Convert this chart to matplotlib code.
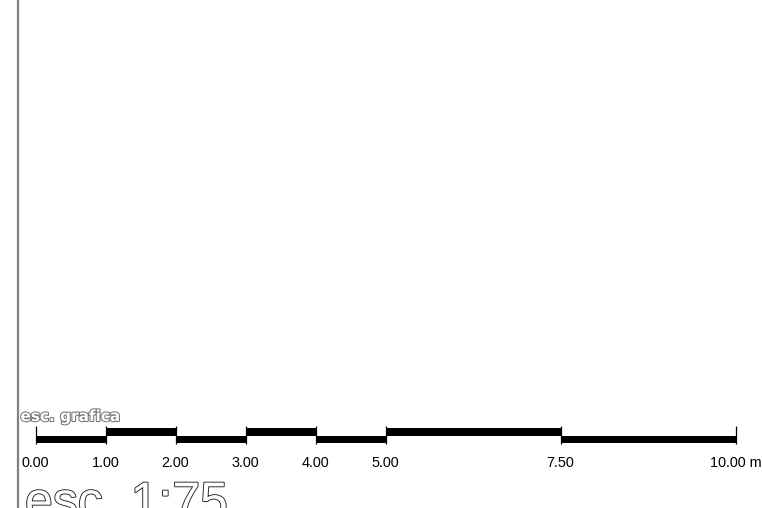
import matplotlib
matplotlib.use("Agg")
import matplotlib.pyplot as plt
import matplotlib.patheffects as pe

# scale bar data (metres)
ticks = [0, 1, 2, 3, 4, 5, 7.5, 10]
tick_labels = ["0.00", "1.00", "2.00", "3.00", "4.00", "5.00", "7.50", "10.00 m"]
title_small = "esc. grafica"
title_big = "esc. 1:75"

fig = plt.figure(figsize=(7.62, 5.08), dpi=100)
ax = fig.add_axes([0, 0, 1, 1])
ax.set_axis_off()

# 70 px per metre, 0 m at x=35.5 px
px_per_m = 70.0
x0 = 35.5
ax.set_xlim(-x0 / px_per_m, (762 - x0) / px_per_m)
ax.set_ylim(508, 0)

# left border line
ax.axvline(-(x0 - 18) / px_per_m, color="#808080", lw=1.6)

# alternating segments: lower / upper
bar_h = 7.5
upper_y = 428
lower_y = upper_y + bar_h
for i in range(len(ticks) - 1):
    left = ticks[i]
    width = ticks[i + 1] - ticks[i]
    bottom = lower_y if i % 2 == 0 else upper_y
    ax.bar(left, bar_h, width=width, bottom=bottom, align="edge",
           color="black", edgecolor="none")

# ticks and labels
ax.vlines(ticks, 425.5, 443.5, color="black", lw=0.9)
for t, lab in zip(ticks, tick_labels):
    ax.text(t, 467, lab, ha="center", va="baseline", fontsize=10.4,
            family="Liberation Sans", color="black")

# outlined titles
ax.text(20.5 / 762, 1 - 421 / 508, title_small, transform=ax.transAxes,
        ha="left", va="baseline", fontsize=11, fontweight="bold",
        family="DejaVu Sans", color="white",
        path_effects=[pe.Stroke(linewidth=1.5, foreground="#777777"), pe.Normal()])
ax.text(25 / 762, 1 - 517 / 508, title_big, transform=ax.transAxes,
        ha="left", va="baseline", fontsize=36, family="Liberation Sans",
        color="white", clip_on=False,
        path_effects=[pe.Stroke(linewidth=1.3, foreground="#222222"), pe.Normal()])

fig.savefig("out.png", dpi=100)
